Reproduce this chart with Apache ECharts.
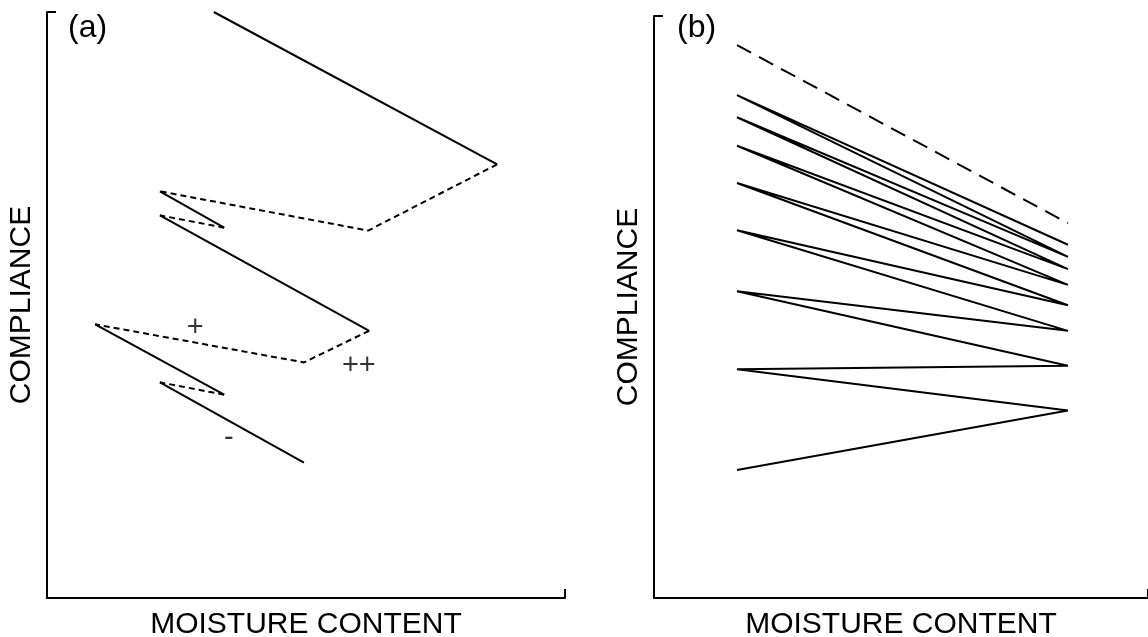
<!DOCTYPE html>
<html>
<head>
<meta charset="utf-8">
<script src="https://cdn.jsdelivr.net/npm/echarts@6/dist/echarts.min.js"></script>
<style>
  html, body { margin: 0; padding: 0; background: #fff; }
  #chart { width: 1148px; height: 637px; }
</style>
</head>
<body>
<div id="chart"></div>
<script>
// panel (a): path points (x, y in 0..100)
const aPathX = [32.2, 86.9, 62.0, 21.8, 34.2, 21.8, 62.2, 49.6, 9.3, 34.2, 21.8, 49.6]
const aPathY = [100, 74.0, 62.7, 69.4, 63.2, 65.3, 45.6, 40.2, 46.7, 34.7, 36.8, 23.1]
// which runs of the path are solid / dashed (start, end index)
const aSolidRuns = [[0, 1], [3, 4], [5, 6], [8, 9], [10, 11]]
const aDashedRuns = [[1, 3], [4, 5], [6, 8], [9, 10]]
// annotations on panel (a)
const aMarks = ['+', '++', '-']
const aMarkX = [28.6, 60.2, 35.1]
const aMarkY = [46.0, 39.6, 27.3]

// panel (b): zigzag between left and right ends
const bLeftX = 16.8
const bRightX = 83.8
const bLeftY = [22.0, 39.3, 52.7, 63.2, 71.3, 77.7, 82.6, 86.4]
const bRightY = [32.2, 39.9, 45.9, 50.3, 53.8, 56.5, 58.6, 60.7]
const bDashedY = [95.0, 64.4]

const xLabel = 'MOISTURE CONTENT'
const yLabel = 'COMPLIANCE'
const panelTitles = ['(a)', '(b)']

const font = 'Liberation Sans, Arial, sans-serif'
const black = '#000'

const chart = echarts.init(document.getElementById('chart'))

const runToData = (run) => {
  const pts = []
  for (let i = run[0]; i <= run[1]; i++) pts.push([aPathX[i], aPathY[i]])
  return pts
}

const lineSeries = (data, gridIdx, dashed) => ({
  type: 'line',
  xAxisIndex: gridIdx,
  yAxisIndex: gridIdx,
  data,
  symbol: 'none',
  silent: true,
  animation: false,
  lineStyle: { color: black, width: 2, type: dashed || 'solid' }
})

const series = []
aSolidRuns.forEach((r) => series.push(lineSeries(runToData(r), 0)))
aDashedRuns.forEach((r) => series.push(lineSeries(runToData(r), 0, [6, 4])))

// zigzag for (b)
const zig = []
bLeftY.forEach((y, i) => {
  zig.push([bLeftX, y])
  zig.push([bRightX, bRightY[i]])
})
series.push(lineSeries(zig, 1))
series.push(lineSeries([[bLeftX, bDashedY[0]], [bRightX, bDashedY[1]]], 1, [16, 9]))

// text marks
series.push({
  type: 'scatter',
  xAxisIndex: 0,
  yAxisIndex: 0,
  symbolSize: 0,
  silent: true,
  animation: false,
  data: aMarks.map((m, i) => ({ value: [aMarkX[i], aMarkY[i]], name: m })),
  label: {
    show: true,
    position: 'inside',
    formatter: (p) => p.name,
    color: black,
    fontSize: 29,
    fontFamily: font
  }
})

const axisBase = {
  type: 'value',
  min: 0,
  max: 100,
  interval: 100,
  splitLine: { show: false },
  axisLabel: { show: false },
  axisLine: { show: true, lineStyle: { color: black, width: 2 } },
  axisTick: { show: true, inside: true, length: 9, lineStyle: { color: black, width: 2 } },
  nameLocation: 'middle',
  nameTextStyle: { color: black, fontSize: 30, fontFamily: font }
}

chart.setOption({
  backgroundColor: '#fff',
  title: panelTitles.map((t, i) => ({
    text: t,
    left: i === 0 ? 63 : 672,
    top: 7,
    textStyle: { color: black, fontSize: 32, fontWeight: 'normal', fontFamily: font }
  })),
  grid: [
    { left: 47, top: 12, width: 518, height: 586, outerBoundsMode: 'none' },
    { left: 654, top: 16, width: 494, height: 582, outerBoundsMode: 'none' }
  ],
  xAxis: [
    { ...axisBase, gridIndex: 0, name: xLabel, nameGap: 12 },
    { ...axisBase, gridIndex: 1, name: xLabel, nameGap: 12 }
  ],
  yAxis: [
    { ...axisBase, gridIndex: 0, name: yLabel, nameGap: 10 },
    { ...axisBase, gridIndex: 1, name: yLabel, nameGap: 10 }
  ],
  series
})
</script>
</body>
</html>
